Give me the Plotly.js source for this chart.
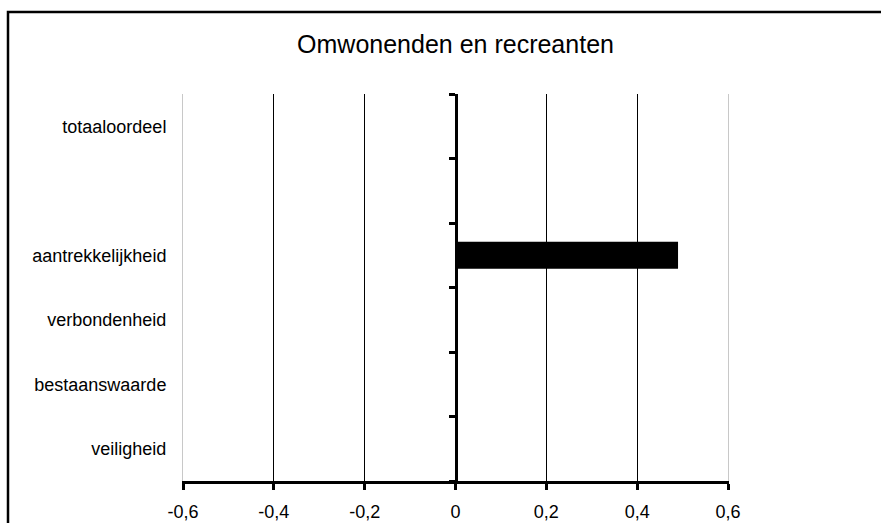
<!DOCTYPE html>
<html>
<head>
<meta charset="utf-8">
<script src="https://cdn.plot.ly/plotly-3.0.1.min.js"></script>
<style>
  html, body { margin: 0; padding: 0; background: #ffffff; }
  #chart { width: 881px; height: 523px; }
</style>
</head>
<body>
<div id="chart"></div>
<script>
// ---- data (top to bottom as shown) ----
const categories = ['totaaloordeel', ' ', 'aantrekkelijkheid', 'verbondenheid', 'bestaanswaarde', 'veiligheid'];
const values = [null, null, 0.49, null, null, null];
const xTickVals = [-0.6, -0.4, -0.2, 0, 0.2, 0.4, 0.6];
const xTickText = ['-0,6', '-0,4', '-0,2', '0', '0,2', '0,4', '0,6'];
const chartTitle = 'Omwonenden en recreanten';

const FONT = 'Liberation Sans, Arial, Helvetica, sans-serif';

const W = 881, H = 523;
const L = 183, R = 153, T = 94, B = 42;
const pw = W - L - R, ph = H - T - B;
function px2x(p) { return (p - L) / pw; }
function px2y(p) { return (H - B - p) / ph; }

const traces = [
  {
    type: 'bar',
    orientation: 'h',
    y: categories,
    x: values,
    marker: { color: '#000000', line: { width: 0 } },
    hoverinfo: 'x+y',
    showlegend: false
  },
  {
    type: 'scatter',
    mode: 'markers',
    x: [],
    y: [],
    yaxis: 'y2',
    hoverinfo: 'skip',
    showlegend: false
  }
];

const layout = {
  width: W,
  height: H,
  margin: { l: L, r: R, t: T, b: B, pad: 0 },
  paper_bgcolor: '#ffffff',
  plot_bgcolor: '#ffffff',
  font: { family: FONT, size: 18, color: '#000000' },
  showlegend: false,
  bargap: 0.58,
  title: {
    text: chartTitle,
    font: { family: FONT, size: 25, color: '#000000' },
    x: 0.5,
    xref: 'paper',
    xanchor: 'center',
    y: 1 - 44 / H,
    yref: 'container',
    yanchor: 'middle'
  },
  xaxis: {
    range: [-0.6, 0.6],
    tickmode: 'array',
    tickvals: xTickVals,
    ticktext: xTickText,
    ticks: 'outside',
    ticklen: 6,
    tickwidth: 3,
    tickcolor: '#000000',
    showline: true,
    linewidth: 3,
    linecolor: '#000000',
    showgrid: true,
    gridcolor: '#000000',
    gridwidth: 1,
    zeroline: false,
    ticklabelstandoff: 6,
    tickfont: { family: FONT, size: 18, color: '#000000' },
    fixedrange: true
  },
  yaxis: {
    type: 'category',
    categoryorder: 'array',
    categoryarray: categories,
    range: [5.5, -0.5],
    showline: true,
    mirror: true,
    linewidth: 1,
    linecolor: '#c8c8c8',
    ticks: '',
    showgrid: false,
    zeroline: false,
    ticklabelstandoff: 12,
    tickfont: { family: FONT, size: 18, color: '#000000' },
    fixedrange: true
  },
  yaxis2: {
    overlaying: 'y',
    anchor: 'free',
    position: 0.5,
    side: 'left',
    range: [-0.5, 5.5],
    tickmode: 'linear',
    tick0: -0.5,
    dtick: 1,
    ticks: 'outside',
    ticklen: 6,
    tickwidth: 3,
    tickcolor: '#000000',
    showticklabels: false,
    showline: true,
    linewidth: 3,
    linecolor: '#000000',
    showgrid: false,
    zeroline: false,
    fixedrange: true
  },
  shapes: [
    {
      type: 'rect',
      xref: 'paper', yref: 'paper',
      x0: px2x(8), x1: px2x(W + 10),
      y0: px2y(H + 10), y1: px2y(12),
      line: { color: '#000000', width: 2.5 },
      fillcolor: 'rgba(0,0,0,0)',
      layer: 'below'
    }
  ]
};

Plotly.newPlot('chart', traces, layout, { displayModeBar: false, staticPlot: true });
</script>
</body>
</html>
